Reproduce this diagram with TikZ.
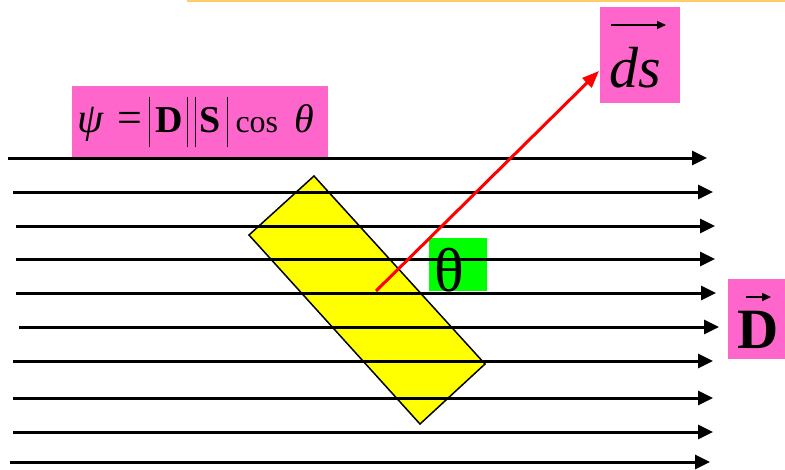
\documentclass[tikz,border=0pt]{standalone}
\usepackage{fontspec}
\setmainfont{Liberation Serif}
\usetikzlibrary{arrows.meta}
\definecolor{pinkbox}{RGB}{255,102,204}
\definecolor{greenbox}{RGB}{0,255,0}
\definecolor{yellowplate}{RGB}{255,255,0}
\definecolor{topline}{RGB}{255,204,102}
\begin{document}
\begin{tikzpicture}[x=1pt,y=-1pt,
  fieldline/.style={line width=3pt,-{Triangle[length=15pt,width=14pt]}},
  normalline/.style={line width=3pt,red,-{Triangle[length=17pt,width=13pt]}},
  fillbox/.style={inner sep=0pt,outer sep=0pt,anchor=north west},
  txt/.style={inner sep=0pt,outer sep=0pt,anchor=base west},
  overarrow/.style={line width=1.5pt,-{Triangle[length=9pt,width=8pt]}}]
\useasboundingbox (0,0) rectangle (785,469);
% top rule
\coordinate (tl1) at (187,1);
\coordinate (tl2) at (785,1);
\draw[topline,line width=2.5pt] (tl1) -- (tl2);
% boxes
\node[fillbox,fill=pinkbox,minimum width=256pt,minimum height=71pt] (psibox) at (72,86) {};
\node[fillbox,fill=pinkbox,minimum width=80pt,minimum height=96pt] (dsbox) at (600,7) {};
\node[fillbox,fill=pinkbox,minimum width=57pt,minimum height=80pt] (dbox) at (728,279) {};
% plate
\coordinate (p1) at (314,176);
\coordinate (p2) at (485,364);
\coordinate (p3) at (420,424);
\coordinate (p4) at (249,235);
\draw[fill=yellowplate,line width=1.5pt,line join=miter] (p1) -- (p2) -- (p3) -- (p4) -- cycle;
% green box
\node[fillbox,fill=greenbox,minimum width=58pt,minimum height=53pt] (thbox) at (429,238) {};
% field lines
\foreach \i/\xa/\xb/\yy in {1/8/707/158,2/13/713/192,3/16/715/226,4/16/715/259,5/16/716/293,6/19/719/327,7/13/713/361,8/13/713/398,9/13/713/432,10/10/710/462}{
  \coordinate (fa\i) at (\xa,\yy);
  \coordinate (fb\i) at (\xb,\yy);
  \draw[fieldline] (fa\i) -- (fb\i);
}
% normal vector
\coordinate (o) at (376,291);
\coordinate (dstip) at (599,71);
\draw[normalline] (o) -- (dstip);
% formula
\node[txt,font=\fontsize{32}{36}\selectfont] (psitext) at (78,132) {%
\makebox[0pt][l]{\hspace{-1pt}{\fontsize{42}{44}\selectfont\itshape ψ}}%
\makebox[0pt][l]{\hspace{39pt}{\fontsize{44}{44}\selectfont =}}%
\makebox[0pt][l]{\hspace{70pt}\rule[-15pt]{1.5pt}{50pt}}%
\makebox[0pt][l]{\hspace{77pt}{\fontsize{38}{40}\selectfont\bfseries D}}%
\makebox[0pt][l]{\hspace{108pt}\rule[-15pt]{1.5pt}{50pt}}%
\makebox[0pt][l]{\hspace{116pt}\rule[-15pt]{1.5pt}{50pt}}%
\makebox[0pt][l]{\hspace{121pt}{\fontsize{38}{40}\selectfont\bfseries S}}%
\makebox[0pt][l]{\hspace{148pt}\rule[-15pt]{1.5pt}{50pt}}%
\makebox[0pt][l]{\hspace{157pt}cos}%
\makebox[0pt][l]{\hspace{216pt}{\fontsize{40}{42}\selectfont\itshape θ}}%
\hspace{240pt}};
% ds label
\node[txt,font=\fontsize{58}{60}\selectfont\itshape] (dstext) at (609,87) {ds};
\coordinate (dsa1) at (611,25);
\coordinate (dsa2) at (666,25);
\draw[overarrow] (dsa1) -- (dsa2);
% D label
\node[txt,font=\fontsize{57}{60}\selectfont\bfseries] (dtext) at (737,348) {D};
\coordinate (da1) at (746,297);
\coordinate (da2) at (771,297);
\draw[overarrow] (da1) -- (da2);
% theta
\node[txt,font=\fontsize{62}{64}\selectfont] (thetatext) at (434,291) {θ};
\end{tikzpicture}
\end{document}
